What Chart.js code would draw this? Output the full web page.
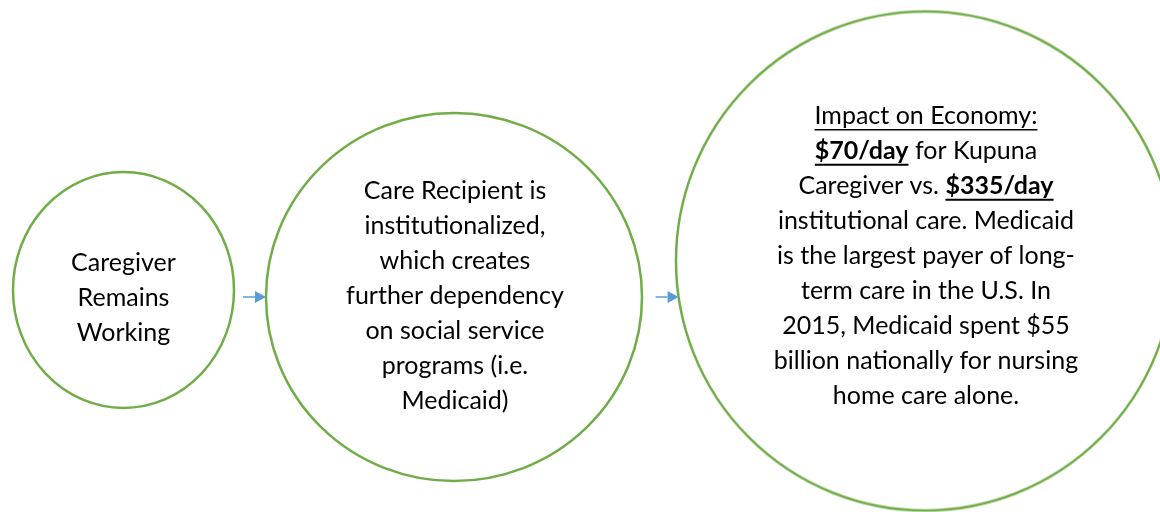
<!DOCTYPE html>
<html>
<head>
<meta charset="utf-8">
<script src="https://cdn.jsdelivr.net/npm/chart.js@4.4.1/dist/chart.umd.min.js"></script>
<style>
  html, body { margin: 0; padding: 0; background: #ffffff; }
  #wrap { width: 1160px; height: 512px; }
</style>
</head>
<body>
<div id="wrap"><canvas id="c" width="1160" height="512"></canvas></div>
<script>
// Node shapes (bubble data: centre and horizontal / vertical radius)
const nodeNames = ["Caregiver Remains Working", "Care Recipient Institutionalized", "Impact on Economy"];
const nodeX = [123.5, 454, 925];
const nodeY = [290, 297, 261];
const nodeRx = [110.5, 188, 249];
const nodeRy = [118, 184, 249.5];

// Text inside each shape; **bold**, __underline__
const nodeText = [
  ["Caregiver", "Remains", "Working"],
  ["Care Recipient is", "institutionalized,", "which creates", "further dependency",
   "on social service", "programs (i.e.", "Medicaid)"],
  ["__Impact on Economy:__", "**__$70/day__** for Kupuna", "Caregiver vs. **__$335/day__**",
   "institutional care. Medicaid", "is the largest payer of long-", "term care in the U.S. In",
   "2015, Medicaid spent $55", "billion nationally for nursing", "home care alone."]
];
const textDx = [0, 1, 1];
const textDy = [7.5, -1, -5];

// Arrows: from node a to node b
const arrowLinks = [[0, 1], [1, 2]];
const arrowY = [297, 297];

const FONT_FAMILY = "Lato, 'Open Sans', sans-serif";
const FONT_SIZE = 25;
const LINE_H = 35;
const STROKE = '#70AD47';
const STROKE_W = 2.5;

// ellipse sprites used as point styles
const ellipseImages = nodeRx.map((rx, i) => {
  const ry = nodeRy[i];
  const cv = document.createElement('canvas');
  cv.width = Math.ceil(2 * rx + 6);
  cv.height = Math.ceil(2 * ry + 6);
  const g = cv.getContext('2d');
  g.strokeStyle = STROKE;
  g.lineWidth = STROKE_W;
  g.beginPath();
  g.ellipse(cv.width / 2, cv.height / 2, rx, ry, 0, 0, Math.PI * 2);
  g.stroke();
  return cv;
});

function parseSegments(line) {
  const segs = [];
  const re = /\*\*__(.+?)__\*\*|__(.+?)__|\*\*(.+?)\*\*|([^*_]+)/g;
  let m;
  while ((m = re.exec(line)) !== null) {
    if (m[1]) segs.push({ t: m[1], b: true, u: true });
    else if (m[2]) segs.push({ t: m[2], b: false, u: true });
    else if (m[3]) segs.push({ t: m[3], b: true, u: false });
    else segs.push({ t: m[4], b: false, u: false });
  }
  return segs;
}

const overlayPlugin = {
  id: 'overlay',
  afterDatasetsDraw(chart) {
    const ctx = chart.ctx;
    const xs = chart.scales.x, ys = chart.scales.y;
    ctx.save();
    // arrows
    ctx.strokeStyle = '#5B9BD5';
    ctx.fillStyle = '#5B9BD5';
    arrowLinks.forEach(([a, b], k) => {
      const yA = ys.getPixelForValue(arrowY[k]);
      const cxB = xs.getPixelForValue(nodeX[b]);
      const cyB = ys.getPixelForValue(nodeY[b]);
      const t = (yA - cyB) / nodeRy[b];
      const endX = cxB - nodeRx[b] * Math.sqrt(Math.max(0, 1 - t * t));
      const startX = endX - 23;
      const headL = 11, headW = 6;
      ctx.lineWidth = 1.5;
      ctx.beginPath();
      ctx.moveTo(startX, yA);
      ctx.lineTo(endX - headL, yA);
      ctx.stroke();
      ctx.beginPath();
      ctx.moveTo(endX, yA);
      ctx.lineTo(endX - headL, yA - headW);
      ctx.lineTo(endX - headL, yA + headW);
      ctx.closePath();
      ctx.fill();
    });
    // text
    ctx.fillStyle = '#000000';
    ctx.strokeStyle = '#000000';
    ctx.textBaseline = 'middle';
    ctx.textAlign = 'left';
    nodeText.forEach((lines, i) => {
      const cx = xs.getPixelForValue(nodeX[i]) + textDx[i];
      const cy = ys.getPixelForValue(nodeY[i]) + textDy[i];
      const y0 = cy - (lines.length - 1) * LINE_H / 2;
      lines.forEach((line, j) => {
        const segs = parseSegments(line);
        let total = 0;
        segs.forEach(s => {
          ctx.font = (s.b ? 'bold ' : '') + FONT_SIZE + 'px ' + FONT_FAMILY;
          s.w = ctx.measureText(s.t).width;
          total += s.w;
        });
        let x = cx - total / 2;
        const y = y0 + j * LINE_H;
        segs.forEach(s => {
          ctx.font = (s.b ? 'bold ' : '') + FONT_SIZE + 'px ' + FONT_FAMILY;
          ctx.fillText(s.t, x, y);
          if (s.u) {
            ctx.lineWidth = s.b ? 2 : 1.5;
            ctx.beginPath();
            ctx.moveTo(x, y + FONT_SIZE * 0.55);
            ctx.lineTo(x + s.w, y + FONT_SIZE * 0.55);
            ctx.stroke();
          }
          x += s.w;
        });
      });
    });
    ctx.restore();
  }
};

new Chart(document.getElementById('c'), {
  type: 'bubble',
  data: {
    labels: nodeNames,
    datasets: [{
      data: nodeX.map((x, i) => ({ x: x, y: nodeY[i], r: nodeRx[i] })),
      pointStyle: (c) => ellipseImages[c.dataIndex],
      backgroundColor: 'rgba(255,255,255,0)',
      borderColor: STROKE,
      borderWidth: STROKE_W,
      hoverBorderWidth: STROKE_W,
      clip: false
    }]
  },
  options: {
    responsive: false,
    animation: false,
    events: [],
    layout: { padding: 0, autoPadding: false },
    scales: {
      x: { type: 'linear', min: 0, max: 1160, display: false },
      y: { type: 'linear', min: 0, max: 512, reverse: true, display: false }
    },
    plugins: {
      legend: { display: false },
      tooltip: { enabled: false },
      title: { display: false }
    }
  },
  plugins: [overlayPlugin]
});
</script>
</body>
</html>
